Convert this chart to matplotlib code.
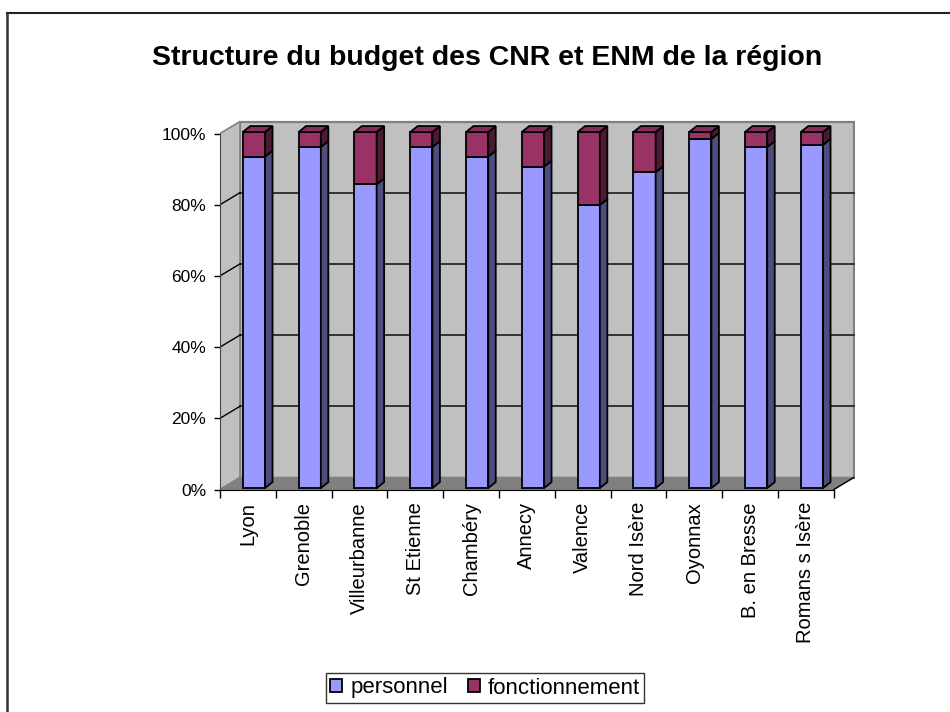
import matplotlib
matplotlib.use("Agg")
import matplotlib.pyplot as plt
from matplotlib.patches import Polygon, Rectangle
from matplotlib.lines import Line2D
import numpy as np

plt.rcParams['font.family'] = ['Liberation Sans', 'DejaVu Sans']

# ---------------- data ----------------
categories = ["Lyon", "Grenoble", "Villeurbanne", "St Etienne", "Chambéry", "Annecy",
              "Valence", "Nord Isère", "Oyonnax", "B. en Bresse", "Romans s Isère"]
personnel = [0.931, 0.958, 0.853, 0.958, 0.931, 0.903, 0.795, 0.887, 0.981, 0.958, 0.964]
fonctionnement = [0.069, 0.042, 0.147, 0.042, 0.069, 0.097, 0.205, 0.113, 0.019, 0.042, 0.036]
series_names = ["personnel", "fonctionnement"]
yticks = [0, 0.2, 0.4, 0.6, 0.8, 1.0]
ytick_labels = ["0%", "20%", "40%", "60%", "80%", "100%"]
title = "Structure du budget des CNR et ENM de la région"

# ---------------- style ----------------
C_PERS, C_PERS_SIDE = "#9999ff", "#4d4d80"
C_FONC, C_FONC_SIDE, C_FONC_TOP = "#993366", "#4d1a33", "#862c59"
C_WALL, C_FLOOR = "#c0c0c0", "#808080"

W, H = 950, 712
U, V = 55.8, 356.0          # px per data unit (x, y)
DX, DY = 20 / U, 12 / V     # wall depth
BX, BY = 0.107, 0.004       # bar front offset
BW = 0.40                   # bar width
DDX, DDY = 7.5 / U, 6 / V   # bar depth

n = len(categories)
tot = np.array(personnel) + np.array(fonctionnement)
pers = np.array(personnel) / tot
fonc = np.array(fonctionnement) / tot

fig = plt.figure(figsize=(W / 100, H / 100), dpi=100)
xmin, xmax = -0.5, n - 0.5 + DX + 0.02
ymin, ymax = 0.0, 1.045
ax = fig.add_axes([220 / W, 1 - 489.5 / H, (xmax - xmin) * U / W, (ymax - ymin) * V / H])
ax.set_xlim(xmin, xmax)
ax.set_ylim(ymin, ymax)
ax.patch.set_visible(False)

# walls
xl, xr = -0.5, n - 0.5
ax.add_patch(Rectangle((xl + DX, DY), n, 1.0, fc=C_WALL, ec=C_FLOOR, lw=1.6, zorder=0.5))
ax.add_patch(Polygon([(xl, 0), (xl + DX, DY), (xl + DX, 1 + DY), (xl, 1)], closed=True,
                     fc=C_WALL, ec=C_FLOOR, lw=1.2, zorder=0.6))
ax.add_patch(Polygon([(xl, 0), (xr, 0), (xr + DX, DY), (xl + DX, DY)], closed=True,
                     fc=C_FLOOR, ec=C_FLOOR, lw=1, zorder=0.6))
ax.plot([xr, xr + DX], [0, DY], color="black", lw=1, zorder=0.7, clip_on=False)
for y in yticks[1:-1]:
    ax.plot([xl + DX, xr + DX], [y + DY, y + DY], color="#333333", lw=1.4, zorder=0.7)
    ax.plot([xl, xl + DX], [y, y + DY], color="black", lw=1, zorder=0.7)

# bars
for i in range(n):
    x = i + BX
    fl, fr = x - BW / 2, x + BW / 2
    ax.bar(x, pers[i], BW, bottom=BY, color=C_PERS, edgecolor="black", lw=1.3, zorder=2)
    ax.bar(x, fonc[i], BW, bottom=BY + pers[i], color=C_FONC, edgecolor="black", lw=1.3, zorder=2)
    segs = [(BY, BY + pers[i], C_PERS_SIDE), (BY + pers[i], BY + pers[i] + fonc[i], C_FONC_SIDE)]
    for b, t, c in segs:
        ax.add_patch(Polygon([(fr, b), (fr + DDX, b + DDY), (fr + DDX, t + DDY), (fr, t)],
                             closed=True, fc=c, ec="black", lw=1.3, zorder=2))
    top = BY + pers[i] + fonc[i]
    ax.add_patch(Polygon([(fl, top), (fr, top), (fr + DDX, top + DDY), (fl + DDX, top + DDY)],
                         closed=True, fc=C_FONC_TOP, ec="black", lw=1.3, zorder=2))

# axes / ticks
for s in ["top", "right"]:
    ax.spines[s].set_visible(False)
ax.spines["left"].set_bounds(0, 1)
ax.spines["bottom"].set_bounds(xl, xr)
ax.spines["left"].set_color("#444444")
ax.spines["bottom"].set_color("black")
ax.set_yticks(yticks)
ax.set_yticklabels(ytick_labels, fontsize=12.5)
ax.tick_params(axis="y", length=4, width=1, pad=6)
ax.set_xticks(np.arange(-0.5, n, 1.0))
ax.set_xticklabels([""] * (n + 1))
ax.tick_params(axis="x", which="major", length=6, width=1)
ax.set_xticks(np.arange(n), minor=True)
ax.set_xticklabels(categories, minor=True, rotation=90, fontsize=14.5)
ax.tick_params(axis="x", which="minor", length=0, pad=9)

# title
fig.text(487 / W, 1 - 58 / H, title, ha="center", va="center", fontsize=20.5, fontweight="bold")

# legend
handles = [Rectangle((0, 0), 1, 1, fc=C_PERS, ec="black", lw=1.3),
           Rectangle((0, 0), 1, 1, fc=C_FONC, ec="black", lw=1.3)]
leg = fig.legend(handles, series_names, loc="center", bbox_to_anchor=(485 / W, 1 - 688 / H),
                 ncol=2, fontsize=16, frameon=True, fancybox=False, edgecolor="black",
                 handlelength=0.55, handleheight=0.55, handletextpad=0.35, columnspacing=0.9,
                 borderpad=0.2, borderaxespad=0)
leg.get_frame().set_linewidth(1.0)

# figure border (top and left)
fig.add_artist(Line2D([7 / W, 1], [1 - 13 / H, 1 - 13 / H], color="#222222", lw=1.5))
fig.add_artist(Line2D([7 / W, 7 / W], [1 - 13 / H, 0], color="#333333", lw=1.8))

fig.savefig("out.png", dpi=100)
